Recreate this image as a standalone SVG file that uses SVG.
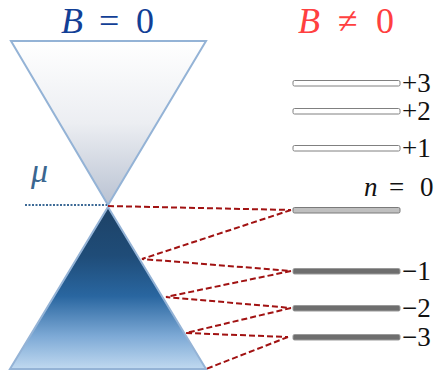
<svg xmlns="http://www.w3.org/2000/svg" width="437" height="371" viewBox="0 0 437 371">
<defs>
<linearGradient id="gUp" x1="0" y1="0" x2="0" y2="1">
<stop offset="0" stop-color="#ffffff"/>
<stop offset="0.5" stop-color="#eceef2"/>
<stop offset="1" stop-color="#b9c2d2"/>
</linearGradient>
<linearGradient id="gDn" x1="0" y1="0" x2="0" y2="1">
<stop offset="0" stop-color="#1d4266"/>
<stop offset="0.3" stop-color="#1f4c78"/>
<stop offset="0.55" stop-color="#2966a0"/>
<stop offset="0.8" stop-color="#7eaad6"/>
<stop offset="1" stop-color="#c0d9f0"/>
</linearGradient>
<style>
.cone{stroke:#94b3d6;stroke-width:2;stroke-linejoin:miter}
.lvlUp{fill:#ffffff;stroke:#808080;stroke-width:1}
.lvl0{fill:#bfbfbf;stroke:#7a7a7a;stroke-width:1}
.lvlDn{fill:#6e6e6e;stroke:#9a9a9a;stroke-width:1}
.lab{font-family:"Liberation Serif","DejaVu Serif",serif;font-size:27px;fill:#111111}
.it{font-style:italic}
.ttl{font-family:"Liberation Serif","DejaVu Serif",serif;font-size:36px}
.conn{fill:none;stroke:#a11212;stroke-width:2;stroke-dasharray:6,3}
</style>
</defs>
<g id="title-b0"><text class="ttl" x="61" y="33" fill="#123f96"><tspan class="it">B</tspan><tspan x="99">=</tspan><tspan x="136">0</tspan></text></g>
<g id="title-bn0"><text class="ttl" x="298" y="33" fill="#ff4040"><tspan class="it">B</tspan><tspan x="338">≠</tspan><tspan x="376">0</tspan></text></g>
<g id="cone-upper"><polygon class="cone" points="11,41 206,41 108,205" fill="url(#gUp)"/></g>
<g id="cone-lower"><polygon class="cone" points="108,207 206,369 10,369" fill="url(#gDn)"/></g>
<g id="mu"><text x="31" y="182" font-family="Liberation Serif, DejaVu Serif, serif" font-size="34" font-style="italic" fill="#3b6690">μ</text>
<line x1="25" y1="205" x2="107" y2="205" stroke="#3d6a96" stroke-width="2" stroke-dasharray="2,1.5"/></g>
<g id="connectors">
<polyline class="conn" points="108,206 291,210"/>
<polyline class="conn" points="291,210 142,259 291,271"/>
<polyline class="conn" points="291,271 166,297 291,308"/>
<polyline class="conn" points="291,308 186,333 288,337"/>
<polyline class="conn" points="288,337 206,369"/>
</g>
<g id="level-p3"><rect class="lvlUp" x="293" y="80.5" width="107" height="5.5" rx="1.5"/><text class="lab" x="402" y="92">+3</text></g>
<g id="level-p2"><rect class="lvlUp" x="293" y="108.5" width="107" height="5.5" rx="1.5"/><text class="lab" x="402" y="120">+2</text></g>
<g id="level-p1"><rect class="lvlUp" x="293" y="145.5" width="107" height="5.5" rx="1.5"/><text class="lab" x="402" y="157">+1</text></g>
<g id="level-0"><rect class="lvl0" x="293" y="207.5" width="107" height="5.5" rx="1.5"/><text class="lab" x="364" y="196"><tspan class="it">n</tspan><tspan x="389">=</tspan><tspan x="420">0</tspan></text></g>
<g id="level-m1"><rect class="lvlDn" x="293" y="268.5" width="107" height="5.5" rx="1.5"/><text class="lab" x="402" y="280">−1</text></g>
<g id="level-m2"><rect class="lvlDn" x="293" y="305.5" width="107" height="5.5" rx="1.5"/><text class="lab" x="402" y="317">−2</text></g>
<g id="level-m3"><rect class="lvlDn" x="293" y="334.5" width="107" height="5.5" rx="1.5"/><text class="lab" x="402" y="346">−3</text></g>
</svg>
